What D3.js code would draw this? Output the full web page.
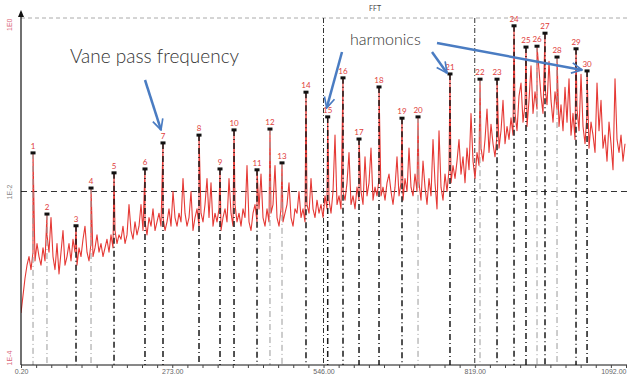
<!DOCTYPE html>
<html>
<head>
<meta charset="utf-8">
<script src="https://cdn.jsdelivr.net/npm/d3@7"></script>
<style>
  html, body { margin: 0; padding: 0; background: #fff; overflow: hidden; }
</style>
</head>
<body>
<div id="chart"></div>
<script>
// ---- data ----
const xTickValues = [0.2, 273, 546, 819, 1092];
const xTickLabels = ['0.20', '273.00', '546.00', '819.00', '1092.00'];
const yTickValues = [0, -40, -80];
const yTickLabels = ['1E0', '1E-2', '1E-4'];

// FFT bins (dB), one every binStep Hz
const binStep = 3.61;
const spectrum = [
  -68, -64, -60, -57, -55, -58, -54, -56, -52, -55,
  -57, -53, -56, -50, -54, -46, -55, -58, -52, -59,
  -54, -49, -57, -55, -52, -56, -51, -54, -57, -53,
  -55, -51, -48, -54, -56, -52, -55, -53, -50, -54,
  -52, -55, -53, -51, -54, -50, -53, -49, -52, -50,
  -51, -48, -52, -50, -43, -49, -51, -47, -50, -48,
  -43, -49, -47, -50, -46, -48, -44, -49, -47, -45,
  -48, -46, -49, -47, -44, -48, -40, -46, -48, -45,
  -47, -37, -45, -48, -46, -40, -49, -46, -44, -48,
  -45, -47, -43, -37, -46, -38, -48, -45, -47, -44,
  -49, -46, -44, -47, -37, -45, -48, -43, -47, -45,
  -48, -44, -46, -34, -47, -49, -45, -43, -47, -44,
  -36, -46, -48, -44, -47, -45, -43, -34, -46, -48,
  -44, -47, -45, -43, -38, -46, -48, -44, -45, -40,
  -46, -44, -47, -43, -45, -37, -44, -46, -42, -45,
  -43, -46, -41, -44, -42, -45, -40, -27, -43, -41,
  -44, -40, -42, -38, -31, -43, -41, -44, -39, -42,
  -40, -43, -32, -41, -38, -30, -42, -39, -41, -37,
  -41, -39, -42, -38, -36, -40, -43, -39, -32, -41,
  -38, -42, -37, -40, -30, -39, -41, -36, -40, -38,
  -42, -33, -39, -43, -37, -41, -28, -38, -44, -26,
  -39, -42, -36, -40, -35, -38, -34, -37, -33, -28,
  -36, -32, -38, -30, -35, -22, -33, -37, -31, -34,
  -30, -33, -28, -21, -31, -24.5, -29, -32, -27, -30,
  -26, -19, -29, -25, -28, -23, -27, -22, -26, -18,
  -15, -24, -20, -25, -19, -11, -22, -17, -21, -12,
  -18, -22, -16, -20, -10, -19, -24, -17, -21, -25,
  -20, -26, -16, -24, -14, -27, -22, -28, -21, -26,
  -13, -25, -29, -22, -30, -24, -27, -31, -15, -26,
  -19, -30, -27, -33, -24, -29, -35, -14, -28, -31,
  -27, -33, -29
];

// marked peaks 1..30 (Hz, dB)
const peakFreq = [
  21.7, 46.9, 99.3, 126.4, 167.9, 223.8, 256.3, 321.3, 359.2, 384.5,
  426.0, 449.4, 471.1, 514.4, 553.6, 581.2, 610.1, 646.2, 687.7, 716.6,
  774.3, 828.5, 859.2, 889.9, 911.5, 931.4, 945.8, 967.5, 1001.8, 1021.7
];
const peakLevel = [
  -31.1, -45.2, -47.9, -39.2, -35.7, -34.8, -28.8, -27.0, -34.8, -25.8,
  -35.0, -25.6, -33.4, -17.1, -22.8, -13.8, -27.9, -15.9, -23.1, -22.8,
  -12.9, -14.1, -14.1, -1.8, -6.7, -6.5, -3.5, -9.0, -7.1, -12.2
];

// ---- layout ----
const W = 627, H = 374;
const PLOT = {left: 21, right: 626, top: 18, bottom: 365};
const faintPeaks = [1, 2, 4, 12, 13, 20, 22, 26, 28];
const BLUE = '#4a7cc2';

const svg = d3.select('#chart').append('svg')
  .attr('width', W).attr('height', H)
  .style('font-family', 'Lato, "Liberation Sans", sans-serif');

const x = d3.scaleLinear().domain([0, 1092]).range([PLOT.left, PLOT.right]);
const y = d3.scaleLinear().domain([-80, 0]).range([PLOT.bottom, PLOT.top]);

// grid: top dashed, middle dashed, two dash-dot verticals
svg.append('line')
  .attr('x1', PLOT.left).attr('x2', W).attr('y1', y(0)).attr('y2', y(0))
  .attr('stroke', '#aaa').attr('stroke-dasharray', '4,3');
svg.append('line')
  .attr('x1', PLOT.left).attr('x2', W).attr('y1', y(-40)).attr('y2', y(-40))
  .attr('stroke', '#333').attr('stroke-width', 1).attr('stroke-dasharray', '6,4');
svg.selectAll('.vgrid')
  .data([546, 819])
  .enter().append('line')
  .attr('class', 'vgrid')
  .attr('x1', d => x(d)).attr('x2', d => x(d))
  .attr('y1', y(0)).attr('y2', y(-80))
  .attr('stroke', '#333').attr('stroke-width', 1)
  .attr('stroke-dasharray', '5,2,1,2');

// spectrum line (bins + marked peaks)
let points = spectrum.map((v, i) => ({f: i * binStep, v: v}));
peakFreq.forEach((f, i) => points.push({f: f, v: peakLevel[i]}));
points.sort((a, b) => a.f - b.f);

svg.append('clipPath').attr('id', 'clip')
  .append('rect').attr('x', PLOT.left).attr('y', 0)
  .attr('width', W - PLOT.left).attr('height', PLOT.bottom);

svg.append('path')
  .datum(points)
  .attr('clip-path', 'url(#clip)')
  .attr('fill', 'none')
  .attr('stroke', '#e53935')
  .attr('stroke-width', 1.1)
  .attr('stroke-linejoin', 'round')
  .attr('d', d3.line().x(d => x(d.f)).y(d => y(d.v)));

// peak stems
const peaks = peakFreq.map((f, i) => ({id: i + 1, f: f, v: peakLevel[i]}));

svg.selectAll('.stem')
  .data(peaks)
  .enter().append('line')
  .attr('class', 'stem')
  .attr('x1', d => x(d.f)).attr('x2', d => x(d.f))
  .attr('y1', d => y(d.v)).attr('y2', y(-80))
  .attr('stroke', d => faintPeaks.includes(d.id) ? '#9a9a9a' : '#1a1a1a')
  .attr('stroke-width', d => faintPeaks.includes(d.id) ? 1 : 1.5)
  .attr('stroke-dasharray', '6,3,1,3');

svg.selectAll('.marker')
  .data(peaks)
  .enter().append('rect')
  .attr('class', 'marker')
  .attr('x', d => x(d.f) - 2.5).attr('y', d => y(d.v) - 1.5)
  .attr('width', 5).attr('height', 3)
  .attr('fill', '#111');

svg.selectAll('.plabel')
  .data(peaks)
  .enter().append('text')
  .attr('class', 'plabel')
  .attr('x', d => x(d.f)).attr('y', d => y(d.v) - 4)
  .attr('text-anchor', 'middle')
  .attr('font-size', 8)
  .attr('fill', '#e03c3c')
  .text(d => d.id);

// axes
const xAxis = d3.axisBottom(x).tickValues(xTickValues)
  .tickFormat((d, i) => xTickLabels[i]).tickSize(0).tickPadding(4);
const gx = svg.append('g')
  .attr('transform', 'translate(0,' + PLOT.bottom + ')')
  .call(xAxis);
gx.select('.domain').attr('stroke', '#111').attr('d', 'M' + PLOT.left + ',0H' + W);
gx.selectAll('text').attr('font-size', 7).attr('fill', '#666')
  .attr('text-anchor', (d, i) => i === xTickValues.length - 1 ? 'end' : 'middle');

const xMinor = d3.axisBottom(x).tickValues(d3.range(0, 1093, 27.3)).tickSize(3).tickFormat('');
svg.append('g')
  .attr('transform', 'translate(0,' + PLOT.bottom + ')')
  .call(xMinor)
  .call(g => g.select('.domain').remove())
  .selectAll('line').attr('stroke', '#444');

const yAxis = d3.axisLeft(y).tickValues(yTickValues)
  .tickFormat((d, i) => yTickLabels[i]).tickSize(0);
const gy = svg.append('g')
  .attr('transform', 'translate(' + PLOT.left + ',0)')
  .call(yAxis);
gy.select('.domain').attr('stroke', '#111').attr('stroke-width', 1.2)
  .attr('d', 'M0,' + (PLOT.top - 6) + 'V' + PLOT.bottom);
gy.selectAll('text')
  .attr('transform', 'rotate(-90)')
  .attr('x', 0).attr('y', -9).attr('dy', 0)
  .attr('font-size', 7)
  .attr('fill', (d, i) => i === 1 ? '#888' : '#d9667a')
  .attr('text-anchor', (d, i) => ['end', 'middle', 'start'][i]);
svg.append('path')
  .attr('d', 'M' + PLOT.left + ',' + (PLOT.top - 8) + 'l-3,7h6z')
  .attr('fill', '#111');

// title
svg.append('text')
  .attr('x', 375).attr('y', 11)
  .attr('text-anchor', 'middle')
  .attr('font-size', 7).attr('fill', '#444')
  .text('FFT');

// annotations
const defs = svg.append('defs');
defs.append('marker')
  .attr('id', 'arrow')
  .attr('viewBox', '0 0 12 12')
  .attr('refX', 11).attr('refY', 6)
  .attr('markerWidth', 5).attr('markerHeight', 5)
  .attr('markerUnits', 'strokeWidth')
  .attr('orient', 'auto')
  .append('path')
  .attr('d', 'M1,1L11,6L1,11')
  .attr('fill', 'none').attr('stroke', BLUE).attr('stroke-width', 1.6);

svg.append('text')
  .attr('x', 70).attr('y', 63)
  .attr('font-size', 19).attr('font-weight', 300).attr('fill', '#333')
  .text('Vane pass frequency');
svg.append('text')
  .attr('x', 350).attr('y', 45)
  .attr('font-size', 16).attr('font-weight', 300).attr('fill', '#333')
  .text('harmonics');

const arrows = [
  {from: [145, 80], peak: 7, dx: -2, dy: -13},
  {from: [342, 52], peak: 15, dx: -1, dy: -9},
  {from: [432, 52], peak: 21, dx: -3, dy: -1},
  {from: [437, 43], peak: 30, dx: -5, dy: -1}
];
svg.selectAll('.arrow')
  .data(arrows)
  .enter().append('line')
  .attr('class', 'arrow')
  .attr('x1', d => d.from[0]).attr('y1', d => d.from[1])
  .attr('x2', d => x(peakFreq[d.peak - 1]) + d.dx)
  .attr('y2', d => y(peakLevel[d.peak - 1]) + d.dy)
  .attr('stroke', BLUE).attr('stroke-width', 2.5)
  .attr('marker-end', 'url(#arrow)');
</script>
</body>
</html>
